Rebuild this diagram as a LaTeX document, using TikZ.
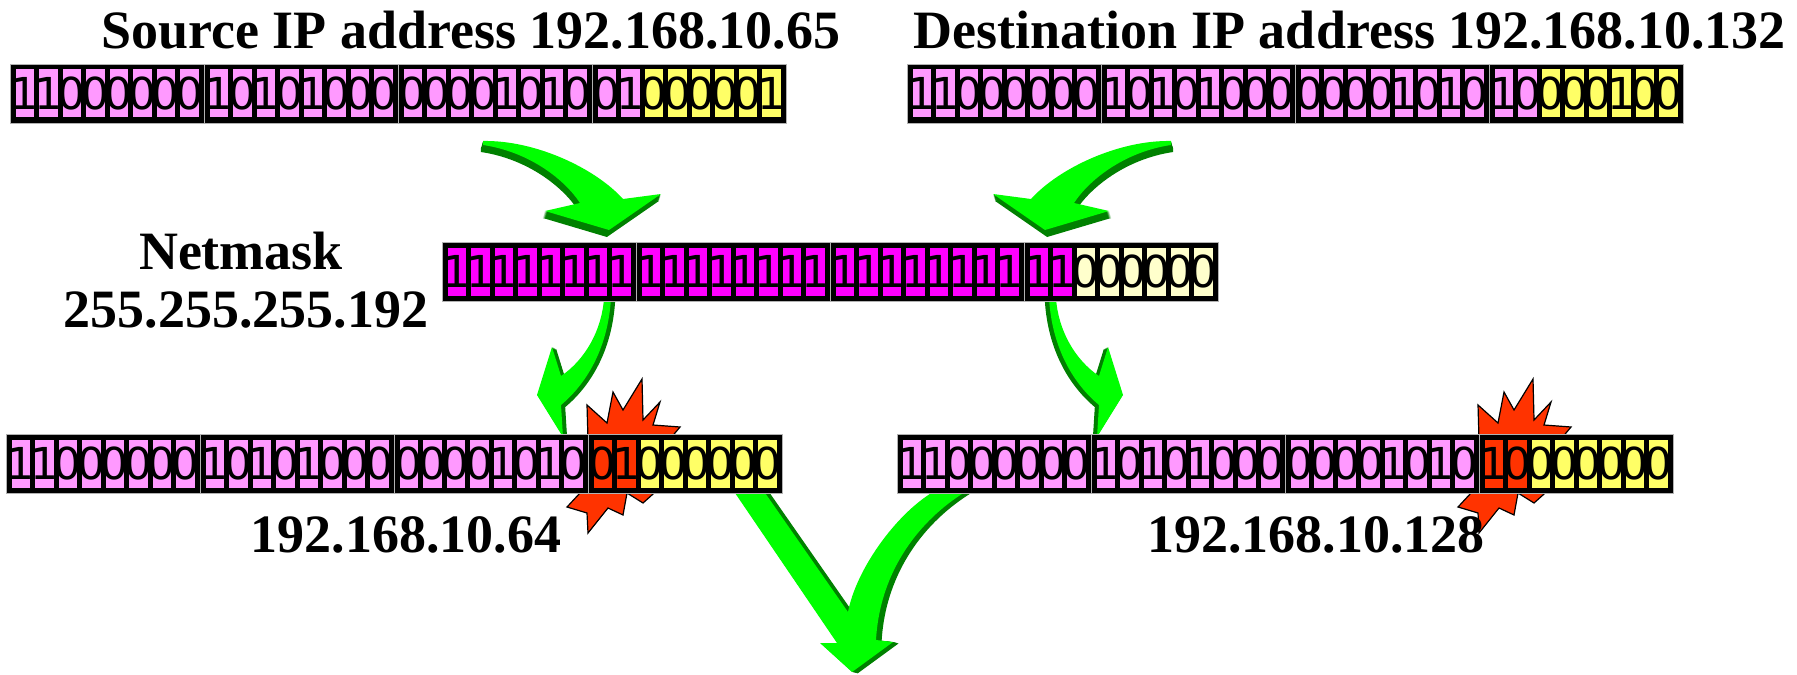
\documentclass[tikz,border=0pt]{standalone}
\usepackage{fontspec}
\setmainfont{Liberation Serif}
\newfontfamily\bitfont{DejaVu Sans}
\usepackage{xcolor}
\usepackage{tikz}

\definecolor{pinkbit}{HTML}{FF99FF}
\definecolor{maskbit}{HTML}{FF00FF}
\definecolor{hostbit}{HTML}{FFFF66}
\definecolor{maskhost}{HTML}{FFFFCC}
\definecolor{burstred}{HTML}{FF3300}
\definecolor{arrowgreen}{HTML}{00FF00}
\definecolor{arrowshade}{HTML}{008000}

% one byte: name, left x, top y, bits, cells in first colour, first colour, second colour
\newcommand{\ipbyte}[7]{%
  \node[bytebox] (#1) at ({#2+97},{#3+29.5}) {};
  \foreach \bitval [count=\pos from 0] in {#4} {
    \ifnum\pos<#5 \def\cellcol{#6}\else\def\cellcol{#7}\fi
    \node[bitcell, fill=\cellcol] (#1-\pos) at ({#2+14.75+23.5*\pos},{#3+29.5}) {\makebox[0pt]{\bitval}};
  }%
}

\begin{document}
\begin{tikzpicture}[x=0.5pt, y=-0.5pt,
  bytebox/.style={rectangle, fill=black, draw=gray!60, line width=0.4pt, minimum width=97pt, minimum height=29.5pt, inner sep=0pt},
  bitcell/.style={rectangle, minimum width=9.25pt, minimum height=24pt, inner sep=0pt, font=\bitfont\fontsize{22}{22}\selectfont},
  heading/.style={font=\bfseries\fontsize{27}{30}\selectfont, inner sep=0pt, anchor=base},
  burst/.style={fill=burstred, draw=black, line width=0.6pt, line join=miter}]
\useasboundingbox (0,0) rectangle (1797,674);

% curved arrows into the netmask
\foreach \mx/\sx in {0/1,1654/-1} {
  \begin{scope}[shift={(\mx,0)}, xscale=\sx]
    \foreach \s in {7,6,...,0} {
      \ifnum\s=0 \def\arrowcol{arrowgreen}\else\def\arrowcol{arrowshade}\fi
      \fill[fill=\arrowcol, shift={(-0.3*\s,\s)}] (483,141) .. controls (535,140) and (595,168) .. (623,199)
        -- (661,194) -- (609,230) -- (545,211) -- (580,203)
        .. controls (565,180) and (530,152) .. (483,145) -- cycle;
    }
  \end{scope}
}

% arrows out of the netmask
\foreach \mx/\sx in {0/1,1660/-1} {
  \begin{scope}[shift={(\mx,0)}, xscale=\sx]
    \foreach \s in {7,6,...,0} {
      \ifnum\s=0 \def\arrowcol{arrowgreen}\else\def\arrowcol{arrowshade}\fi
      \fill[fill=\arrowcol, shift={(0.6*\s,0.3*\s)}] (604,298) .. controls (602,330) and (585,360) .. (561,376)
        -- (552,347) -- (537,395) -- (563,437) -- (561,405)
        .. controls (585,385) and (608,350) .. (611,298) -- cycle;
    }
  \end{scope}
}

% merging arrow
\foreach \s in {7,6,...,0} {
  \ifnum\s=0 \def\arrowcol{arrowgreen}\else\def\arrowcol{arrowshade}\fi
  \fill[fill=\arrowcol, shift={(0.8*\s,0.2*\s)}] (733,490) -- (763,490) -- (848,612)
    .. controls (856,570) and (895,515) .. (933,492) -- (965,492)
    .. controls (920,520) and (880,570) .. (876,640) -- (893,642) -- (852,672)
    -- (820,643) -- (837,643) -- cycle;
}

% starbursts behind the subnet bits
\foreach \dx in {0,891} {
  \draw[burst, shift={(\dx,0)}] (588,440) -- (587,405) -- (607,423) -- (613,392) -- (623,410)
    -- (642,379) -- (643,420) -- (660,402) -- (653,425) -- (680,427) -- (665,445) -- (662,486)
    -- (643,503) -- (627,493) -- (623,515) -- (608,508) -- (588,533) -- (587,513) -- (567,507)
    -- (580,493) -- (585,480) -- cycle;
}

% source address
\ipbyte{src1}{10}{64}{1,1,0,0,0,0,0,0}{8}{pinkbit}{pinkbit}
\ipbyte{src2}{204}{64}{1,0,1,0,1,0,0,0}{8}{pinkbit}{pinkbit}
\ipbyte{src3}{398}{64}{0,0,0,0,1,0,1,0}{8}{pinkbit}{pinkbit}
\ipbyte{src4}{592}{64}{0,1,0,0,0,0,0,1}{2}{pinkbit}{hostbit}

% destination address
\ipbyte{dst1}{907}{64}{1,1,0,0,0,0,0,0}{8}{pinkbit}{pinkbit}
\ipbyte{dst2}{1101}{64}{1,0,1,0,1,0,0,0}{8}{pinkbit}{pinkbit}
\ipbyte{dst3}{1295}{64}{0,0,0,0,1,0,1,0}{8}{pinkbit}{pinkbit}
\ipbyte{dst4}{1489}{64}{1,0,0,0,0,1,0,0}{2}{pinkbit}{hostbit}

% netmask
\ipbyte{mask1}{442}{242}{1,1,1,1,1,1,1,1}{8}{maskbit}{maskbit}
\ipbyte{mask2}{636}{242}{1,1,1,1,1,1,1,1}{8}{maskbit}{maskbit}
\ipbyte{mask3}{830}{242}{1,1,1,1,1,1,1,1}{8}{maskbit}{maskbit}
\ipbyte{mask4}{1024}{242}{1,1,0,0,0,0,0,0}{2}{maskbit}{maskhost}

% source subnet
\ipbyte{srcnet1}{6}{434}{1,1,0,0,0,0,0,0}{8}{pinkbit}{pinkbit}
\ipbyte{srcnet2}{200}{434}{1,0,1,0,1,0,0,0}{8}{pinkbit}{pinkbit}
\ipbyte{srcnet3}{394}{434}{0,0,0,0,1,0,1,0}{8}{pinkbit}{pinkbit}
\ipbyte{srcnet4}{588}{434}{0,1,0,0,0,0,0,0}{2}{burstred}{hostbit}

% destination subnet
\ipbyte{dstnet1}{897}{434}{1,1,0,0,0,0,0,0}{8}{pinkbit}{pinkbit}
\ipbyte{dstnet2}{1091}{434}{1,0,1,0,1,0,0,0}{8}{pinkbit}{pinkbit}
\ipbyte{dstnet3}{1285}{434}{0,0,0,0,1,0,1,0}{8}{pinkbit}{pinkbit}
\ipbyte{dstnet4}{1479}{434}{1,0,0,0,0,0,0,0}{2}{burstred}{hostbit}

\node[heading] (srctitle) at (471,49) {Source IP address 192.168.10.65};
\node[heading] (dsttitle) at (1350,49) {Destination IP address 192.168.10.132};
\node[heading] (masktitle) at (241,269) {Netmask};
\node[heading] (maskval) at (246,327) {255.255.255.192};
\node[heading] (srcnetval) at (406,552) {192.168.10.64};
\node[heading] (dstnetval) at (1316,552) {192.168.10.128};
\end{tikzpicture}
\end{document}
